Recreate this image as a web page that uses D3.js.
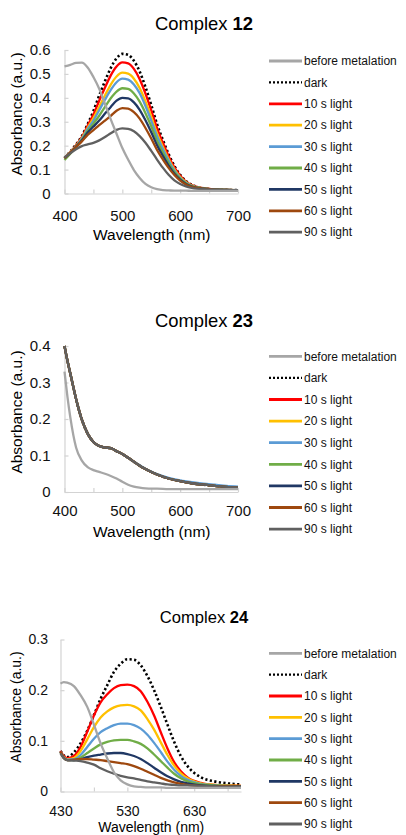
<!DOCTYPE html>
<html>
<head>
<meta charset="utf-8">
<script src="https://cdn.jsdelivr.net/npm/d3@7"></script>
<style>
  body { margin: 0; background: #fff; }
  svg { display: block; }
</style>
</head>
<body>
<svg width="406" height="835"></svg>
<script>
// legend labels, same for all three panels
const seriesNames = ['before metalation', 'dark', '10 s light', '20 s light', '30 s light',
  '40 s light', '50 s light', '60 s light', '90 s light'];

// ---- Complex 12 ----
const wl12 = [400,410,420,430,440,450,460,470,480,490,500,510,520,530,540,550,560,570,580,590,600,610,620,640,660,680,700];
const before12 = [.532,.538,.546,.547,.527,.487,.438,.375,.310,.250,.190,.142,.098,.065,.040,.026,.018,.014,.013,.012,.012,.012,.011,.011,.011,.011,.011];
const dark12   = [.149,.175,.205,.240,.290,.345,.410,.470,.525,.565,.584,.580,.555,.510,.445,.370,.290,.225,.165,.115,.078,.052,.036,.022,.017,.015,.014];
const s10_12   = [.148,.173,.202,.236,.283,.330,.388,.443,.494,.531,.548,.544,.521,.478,.418,.348,.273,.212,.156,.109,.074,.050,.035,.022,.017,.015,.014];
const s20_12   = [.148,.172,.200,.232,.275,.315,.362,.410,.455,.489,.505,.501,.480,.441,.385,.321,.252,.196,.144,.101,.069,.047,.033,.021,.017,.015,.014];
const s30_12   = [.148,.171,.198,.229,.270,.305,.348,.392,.433,.465,.480,.476,.456,.419,.366,.305,.240,.187,.138,.097,.066,.045,.032,.021,.017,.015,.014];
const s40_12   = [.140,.166,.194,.224,.262,.292,.325,.362,.398,.426,.440,.437,.418,.384,.336,.281,.221,.172,.127,.090,.062,.043,.031,.021,.017,.015,.014];
const s50_12   = [.148,.170,.196,.222,.255,.280,.305,.334,.362,.388,.400,.398,.381,.350,.306,.256,.202,.158,.117,.083,.058,.040,.029,.020,.016,.015,.014];
const s60_12   = [.148,.170,.194,.218,.245,.265,.286,.305,.325,.346,.357,.355,.340,.313,.274,.230,.182,.143,.107,.077,.054,.038,.028,.020,.016,.015,.014];
const s90_12   = [.150,.168,.185,.198,.205,.212,.222,.236,.252,.266,.272,.270,.260,.240,.212,.178,.142,.108,.078,.055,.040,.030,.024,.018,.016,.015,.014];

// ---- Complex 23 ---- (all light series sit on top of each other)
const wl23 = [400,405,410,420,430,440,450,460,470,480,490,500,510,520,530,540,550,560,580,600,620,640,660,680,700];
const before23 = [.330,.262,.205,.122,.086,.068,.060,.055,.050,.044,.037,.028,.020,.015,.012,.010,.009,.009,.008,.008,.008,.008,.008,.008,.008];
const light23  = [.400,.360,.325,.255,.198,.160,.137,.126,.122,.120,.112,.104,.094,.083,.072,.063,.055,.048,.037,.030,.024,.020,.017,.014,.012];
const blue23   = [.400,.360,.325,.255,.198,.160,.137,.126,.122,.120,.112,.104,.094,.083,.073,.064,.056,.049,.039,.032,.027,.023,.020,.017,.015];

// ---- Complex 24 ----
const wl24 = [430,435,440,450,460,470,480,490,500,510,520,530,540,550,560,570,580,590,600,610,620,640,660,680,700];
const before24 = [.213,.216,.215,.208,.190,.167,.132,.095,.065,.038,.022,.014,.010,.009,.008,.008,.008,.007,.007,.007,.007,.007,.007,.007,.007];
const dark24   = [.080,.071,.068,.077,.095,.120,.151,.183,.210,.236,.252,.261,.260,.249,.228,.200,.167,.132,.098,.070,.050,.028,.020,.016,.014];
const s10_24   = [.080,.070,.066,.070,.088,.118,.150,.176,.192,.204,.210,.211,.208,.198,.177,.150,.117,.085,.058,.040,.028,.017,.013,.012,.011];
const s20_24   = [.078,.068,.064,.066,.080,.103,.127,.146,.158,.166,.170,.171,.168,.160,.143,.122,.097,.072,.051,.036,.026,.016,.013,.012,.011];
const s30_24   = [.078,.067,.063,.064,.072,.088,.104,.117,.125,.131,.134,.134,.131,.124,.112,.096,.078,.059,.043,.031,.023,.015,.012,.011,.010];
const s40_24   = [.078,.066,.062,.062,.067,.076,.085,.093,.098,.101,.102,.102,.099,.094,.085,.073,.060,.047,.035,.026,.020,.014,.012,.011,.010];
const s50_24   = [.078,.066,.062,.062,.064,.068,.071,.073,.075,.076,.076,.074,.070,.064,.056,.047,.038,.030,.024,.019,.016,.012,.011,.010,.010];
const s60_24   = [.078,.066,.062,.063,.064,.064,.063,.062,.060,.058,.056,.054,.050,.045,.039,.033,.027,.022,.018,.015,.013,.011,.010,.010,.009];
const s90_24   = [.075,.066,.062,.061,.060,.057,.053,.046,.040,.035,.031,.028,.026,.023,.020,.018,.016,.014,.013,.012,.012,.011,.010,.009,.009];

// axis ticks
const yTicks12 = [0, 0.1, 0.2, 0.3, 0.4, 0.5, 0.6];
const yTicks23 = [0, 0.1, 0.2, 0.3, 0.4];
const yTicks24 = [0, 0.1, 0.2, 0.3];
const xTicks12 = [400, 450, 500, 550, 600, 650, 700];
const xLabels12 = [400, 500, 600, 700];
const xTicks24 = [430, 480, 530, 580, 630, 680];
const xLabels24 = [430, 530, 630];

const colors = ['#a6a6a6', '#000000', '#ff0000', '#ffc000', '#5b9bd5', '#70ad47', '#203864', '#9e480e', '#606060'];
const FONT = '"Liberation Sans", Arial, Helvetica, sans-serif';

const svg = d3.select('svg');

function drawPanel(cfg) {
  const g = svg.append('g');
  const x = d3.scaleLinear().domain(cfg.xDomain).range([cfg.left, cfg.right]);
  const y = d3.scaleLinear().domain(cfg.yDomain).range([cfg.bottom, cfg.top]);

  const styleAxis = sel => {
    sel.attr('font-family', FONT).attr('font-size', cfg.tickSize);
    sel.selectAll('.domain, .tick line').attr('stroke', '#d3d3d3').attr('stroke-width', 1.2);
    sel.selectAll('text').attr('fill', '#111');
  };

  g.append('g')
    .attr('transform', `translate(0,${cfg.bottom})`)
    .call(d3.axisBottom(x).tickValues(cfg.xTicks)
      .tickFormat(d => cfg.xLabels.includes(d) ? d : '')
      .tickSizeInner(-4).tickSizeOuter(0).tickPadding(cfg.xPad))
    .call(styleAxis);

  g.append('g')
    .attr('transform', `translate(${cfg.left},0)`)
    .call(d3.axisLeft(y).tickValues(cfg.yTicks)
      .tickFormat(d => d === 0 ? '0' : d.toFixed(1))
      .tickSizeInner(-4).tickSizeOuter(0).tickPadding(cfg.yPad))
    .call(styleAxis);

  // titles
  const t = g.append('text')
    .attr('x', 204).attr('y', cfg.titleY)
    .attr('text-anchor', 'middle')
    .attr('font-family', FONT).attr('font-size', cfg.titleSize);
  t.append('tspan').text('Complex ');
  t.append('tspan').attr('font-weight', 'bold').text(cfg.num);

  g.append('text')
    .attr('x', (cfg.left + cfg.right) / 2 + 0.5).attr('y', cfg.xTitleY)
    .attr('text-anchor', 'middle')
    .attr('font-family', FONT).attr('font-size', cfg.axisTitleSize)
    .text('Wavelength (nm)');

  g.append('text')
    .attr('transform', `translate(${cfg.yTitleX},${cfg.yTitleY}) rotate(-90)`)
    .attr('text-anchor', 'middle')
    .attr('font-family', FONT).attr('font-size', cfg.axisTitleSize)
    .text('Absorbance (a.u.)');

  // curves
  const line = d3.line()
    .x(d => x(d[0])).y(d => y(d[1]))
    .curve(d3.curveMonotoneX);

  const order = [1, 2, 3, 4, 5, 6, 7, 8, 0];
  order.forEach(i => {
    const pts = cfg.wl.map((w, k) => [w, cfg.series[i][k]]);
    g.append('path')
      .attr('d', line(pts))
      .attr('fill', 'none')
      .attr('stroke', colors[i])
      .attr('stroke-width', i === 1 ? 2.6 : 2.3)
      .attr('stroke-dasharray', i === 1 ? '2.2,2.4' : null)
      .attr('stroke-linejoin', 'round');
  });

  // legend
  const leg = g.append('g');
  seriesNames.forEach((name, i) => {
    const yy = cfg.legY + i * cfg.legStep;
    leg.append('line')
      .attr('x1', 269).attr('x2', 302)
      .attr('y1', yy).attr('y2', yy)
      .attr('stroke', colors[i])
      .attr('stroke-width', i === 1 ? 2.4 : 2.8)
      .attr('stroke-dasharray', i === 1 ? '2,2' : null);
    leg.append('text')
      .attr('x', 304).attr('y', yy)
      .attr('dy', '0.35em')
      .attr('font-family', FONT).attr('font-size', 12)
      .attr('fill', '#111')
      .text(name);
  });
}

drawPanel({
  num: '12', titleY: 29.5, titleSize: 18.4,
  wl: wl12, series: [before12, dark12, s10_12, s20_12, s30_12, s40_12, s50_12, s60_12, s90_12],
  xDomain: [400, 700], yDomain: [0, 0.6], left: 64.5, right: 238, top: 50, bottom: 193.5,
  xTicks: xTicks12, xLabels: xLabels12, yTicks: yTicks12,
  tickSize: 15, xPad: 17, yPad: 14,
  axisTitleSize: 15.5, xTitleY: 240, yTitleX: 22, yTitleY: 114,
  legY: 61, legStep: 21.4
});

drawPanel({
  num: '23', titleY: 327, titleSize: 18.4,
  wl: wl23, series: [before23, light23, light23, light23, blue23, light23, light23, light23, light23],
  xDomain: [400, 700], yDomain: [0, 0.4], left: 64.5, right: 238, top: 346, bottom: 492,
  xTicks: xTicks12, xLabels: xLabels12, yTicks: yTicks23,
  tickSize: 15, xPad: 13.5, yPad: 14,
  axisTitleSize: 15.5, xTitleY: 536.5, yTitleX: 22, yTitleY: 412,
  legY: 356.3, legStep: 21.6
});

drawPanel({
  num: '24', titleY: 622.5, titleSize: 16.6,
  wl: wl24, series: [before24, dark24, s10_24, s20_24, s30_24, s40_24, s50_24, s60_24, s90_24],
  xDomain: [430, 700], yDomain: [0, 0.3], left: 60.5, right: 241, top: 639.5, bottom: 791.5,
  xTicks: xTicks24, xLabels: xLabels24, yTicks: yTicks24,
  tickSize: 14, xPad: 14.5, yPad: 12.5,
  axisTitleSize: 14, xTitleY: 831.5, yTitleX: 21, yTitleY: 707,
  legY: 653.3, legStep: 21.34
});
</script>
</body>
</html>
